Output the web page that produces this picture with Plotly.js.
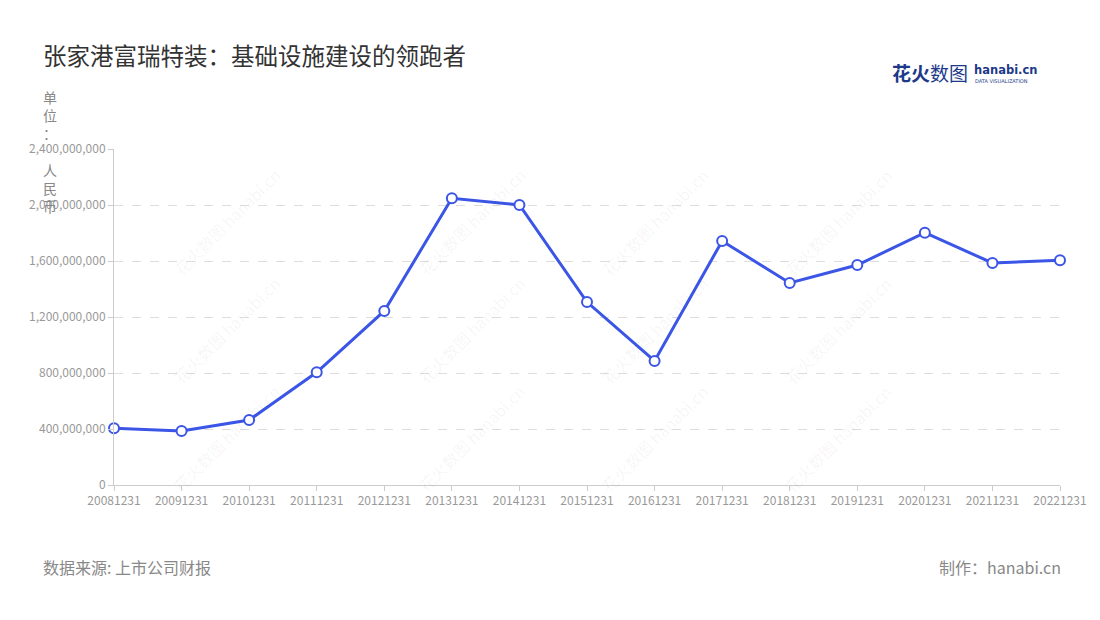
<!DOCTYPE html>
<html><head><meta charset="utf-8">
<script src="https://cdn.plot.ly/plotly-3.0.1.min.js"></script>
<style>html,body{margin:0;padding:0;background:#fff;}#chart{width:1100px;height:620px;}</style>
</head><body><div id="chart"></div>
<script>
const categories = ["20081231","20091231","20101231","20111231","20121231","20131231","20141231","20151231","20161231","20171231","20181231","20191231","20201231","20211231","20221231"];
const values = [405000000,386000000,464000000,805000000,1243000000,2048000000,2000000000,1307000000,886000000,1743000000,1443000000,1571000000,1802000000,1586000000,1605000000];
const yTicks = [0,400000000,800000000,1200000000,1600000000,2000000000,2400000000];
const yTickText = ["0","400,000,000","800,000,000","1,200,000,000","1,600,000,000","2,000,000,000","2,400,000,000"];

const FONT = "'Noto Sans CJK SC', 'Noto Sans', sans-serif";
const annotations = [];
// watermarks
const wmX = [165,410,655,900];
const wmY = [160,330,500];
wmX.forEach(x=>wmY.forEach(y=>{
  annotations.push({xref:'paper',yref:'paper',x:(x-114)/946,y:(485-y)/336,text:'花火数图 hanabi.cn',showarrow:false,textangle:-45,
    font:{family:FONT,size:16,color:'rgba(0,0,0,0.05)'}});
}));
annotations.push(
  {xref:'paper',yref:'paper',x:(41-114)/946,y:(485-55)/336,xanchor:'left',yanchor:'middle',text:'张家港富瑞特装：基础设施建设的领跑者',showarrow:false,font:{family:FONT,size:23.5,color:'#333'}},
  {xref:'paper',yref:'paper',x:(50-114)/946,y:(485-85)/336,xanchor:'center',yanchor:'top',text:'单<br>位<br>：<br> <br>人<br>民<br>币',showarrow:false,font:{family:FONT,size:14,color:'#888'}},
  {xref:'paper',yref:'paper',x:(41-114)/946,y:(485-567)/336,xanchor:'left',yanchor:'middle',text:'数据来源: 上市公司财报',showarrow:false,font:{family:FONT,size:16,color:'#888'}},
  {xref:'paper',yref:'paper',x:(1063-114)/946,y:(485-567)/336,xanchor:'right',yanchor:'middle',text:'制作：hanabi.cn',showarrow:false,font:{family:FONT,size:16,color:'#888'}},
  {xref:'paper',yref:'paper',x:(890-114)/946,y:(485-73)/336,xanchor:'left',yanchor:'middle',text:'<b>花火</b>数图',showarrow:false,font:{family:FONT,size:19,color:'#1d3a8a'}},
  {xref:'paper',yref:'paper',x:(972-114)/946,y:(485-70)/336,xanchor:'left',yanchor:'middle',text:'<b>hanabi.cn</b>',showarrow:false,font:{family:'DejaVu Sans',size:11.5,color:'#1d3a8a'}},
  {xref:'paper',yref:'paper',x:(973-114)/946,y:(485-81)/336,xanchor:'left',yanchor:'middle',text:'DATA VISUALIZATION',showarrow:false,font:{family:'DejaVu Sans',size:5,color:'#1d3a8a'}}
);

const trace = {
  x: categories, y: values, type:'scatter', mode:'lines+markers',
  line:{color:'#3b55e6',width:3},
  marker:{size:10,color:'#fff',line:{color:'#3b55e6',width:2}},
  hoverinfo:'skip', cliponaxis:false
};
const layout = {
  width:1100,height:620,
  margin:{l:114,r:40,t:149,b:135},
  paper_bgcolor:'#fff',plot_bgcolor:'#fff',
  showlegend:false,
  font:{family:FONT,size:12,color:'#999'},
  xaxis:{type:'category',range:[0,14],showgrid:false,zeroline:false,showline:true,linecolor:'#ccc',linewidth:1,
    ticks:'outside',ticklen:5,tickcolor:'#ccc',tickfont:{family:FONT,size:12,color:'#999'},fixedrange:true},
  yaxis:{range:[0,2400000000],tickvals:yTicks,ticktext:yTickText,showgrid:true,gridcolor:'#ddd',griddash:'dash',gridwidth:1,
    zeroline:false,showline:true,linecolor:'#ccc',linewidth:1,ticks:'outside',ticklen:5,tickcolor:'#ccc',
    tickfont:{family:FONT,size:12,color:'#999'},fixedrange:true},
  annotations
};
Plotly.newPlot('chart',[trace],layout,{displayModeBar:false,staticPlot:true});
</script></body></html>
